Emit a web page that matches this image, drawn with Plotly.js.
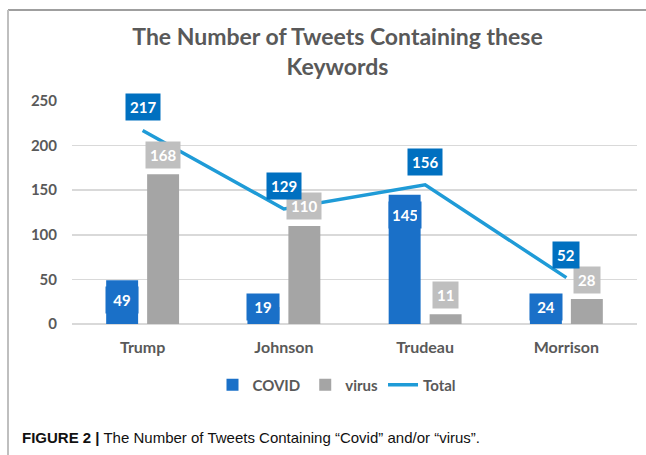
<!DOCTYPE html>
<html>
<head>
<meta charset="utf-8">
<script src="https://cdn.plot.ly/plotly-3.0.1.min.js"></script>
<style>html,body{margin:0;padding:0;background:#fff;}#chart{width:646px;height:455px;}</style>
</head>
<body>
<div id="chart"></div>
<script>
const leaders = ["Trump", "Johnson", "Trudeau", "Morrison"];
const covidCounts = [49, 19, 145, 24];
const virusCounts = [168, 110, 11, 28];
const totalCounts = [217, 129, 156, 52];
const yTicks = [0, 50, 100, 150, 200, 250];

const FONT = "Lato, 'Open Sans', sans-serif";
const GREY = "#595959";
const COVID_C = "#1a70c8";
const VIRUS_C = "#a5a5a5";
const TOTAL_C = "#1f9bd7";
const PX_PER_UNIT = 223 / 250;

const traces = [
  {type: "bar", name: "COVID", x: leaders, y: covidCounts, marker: {color: COVID_C}, hoverinfo: "none"},
  {type: "bar", name: "virus", x: leaders, y: virusCounts, marker: {color: VIRUS_C}, hoverinfo: "none"},
  {type: "scatter", mode: "lines", name: "Total", x: leaders, y: totalCounts,
   line: {color: TOTAL_C, width: 3.5}, hoverinfo: "none"}
];

const annotations = [];
leaders.forEach((c, i) => {
  // COVID labels (inside end)
  const covPos = Math.max(covidCounts[i] - 20 / PX_PER_UNIT, 19.5);
  annotations.push({x: c, y: covPos, xref: "x", yref: "y", xshift: -20.5, yanchor: "middle",
    text: "<b>" + covidCounts[i] + "</b>", showarrow: false, bgcolor: COVID_C, borderpad: 4, width: 24,
    font: {family: FONT, size: 15, color: "#ffffff"}});
  // virus labels (outside end)
  annotations.push({x: c, y: virusCounts[i], xref: "x", yref: "y", xshift: 20.5, yshift: 19.5, yanchor: "middle",
    text: "<b>" + virusCounts[i] + "</b>", showarrow: false, bgcolor: "#bfbfbf", borderpad: 4,
    font: {family: FONT, size: 15, color: "#ffffff"}});
  // total labels (above)
  annotations.push({x: c, y: totalCounts[i], xref: "x", yref: "y", yshift: 23, yanchor: "middle",
    text: "<b>" + totalCounts[i] + "</b>", showarrow: false, bgcolor: "#0070c0", borderpad: 4,
    font: {family: FONT, size: 15, color: "#ffffff"}});
});

annotations.push({
  xref: "paper", yref: "paper", x: (20 - 72) / 565, y: (324 - 437) / 223, xanchor: "left", yanchor: "middle",
  showarrow: false, align: "left",
  text: "<b>FIGURE 2 |</b> The Number of Tweets Containing “Covid” and/or “virus”.",
  font: {family: "'Liberation Sans', Arial, sans-serif", size: 15, color: "#111111"}
});

const layout = {
  width: 646, height: 455,
  margin: {l: 72, r: 9, t: 101, b: 131},
  paper_bgcolor: "#ffffff", plot_bgcolor: "#ffffff",
  title: {
    text: "<b>The Number of Tweets Containing these<br>Keywords</b>",
    font: {family: FONT, size: 23, color: GREY},
    x: (132 + 543) / 2 / 646, xanchor: "center", xref: "container",
    y: 1 - 45 / 455, yanchor: "middle", yref: "container"
  },
  barmode: "group", bargap: 0.42, bargroupgap: 0.22,
  xaxis: {
    type: "category", showgrid: false, zeroline: false, showline: false, ticks: "",
    tickfont: {family: FONT, size: 16, color: GREY, weight: "bold"}, ticklabelstandoff: 12, fixedrange: true
  },
  yaxis: {
    range: [0, 250], tickvals: yTicks, ticktext: yTicks.map(String),
    showgrid: true, gridcolor: "#d9d9d9", gridwidth: 1.5, zeroline: true, zerolinecolor: "#d9d9d9", zerolinewidth: 1.5,
    showline: false, ticks: "", ticklabelstandoff: 14,
    tickfont: {family: FONT, size: 15, color: GREY, weight: "bold"}, fixedrange: true
  },
  legend: {
    orientation: "h", x: (337 - 72) / 565, xanchor: "center", y: (324 - 385) / 223, yanchor: "middle",
    font: {family: FONT, size: 15, color: GREY, weight: "bold"}, itemwidth: 30, tracegroupgap: 0
  },
  showlegend: true,
  annotations: annotations,
  shapes: [
    {type: "line", xref: "paper", yref: "paper", x0: (8 - 72) / 565, x1: (646 - 72) / 565,
     y0: (324 - 10) / 223, y1: (324 - 10) / 223, line: {color: "#7f7f7f", width: 1.5}},
    {type: "line", xref: "paper", yref: "paper", x0: (8 - 72) / 565, x1: (8 - 72) / 565,
     y0: (324 - 10) / 223, y1: (324 - 460) / 223, line: {color: "#bfbfbf", width: 2}}
  ]
};

Plotly.newPlot("chart", traces, layout, {displayModeBar: false, staticPlot: true});
</script>
</body>
</html>
